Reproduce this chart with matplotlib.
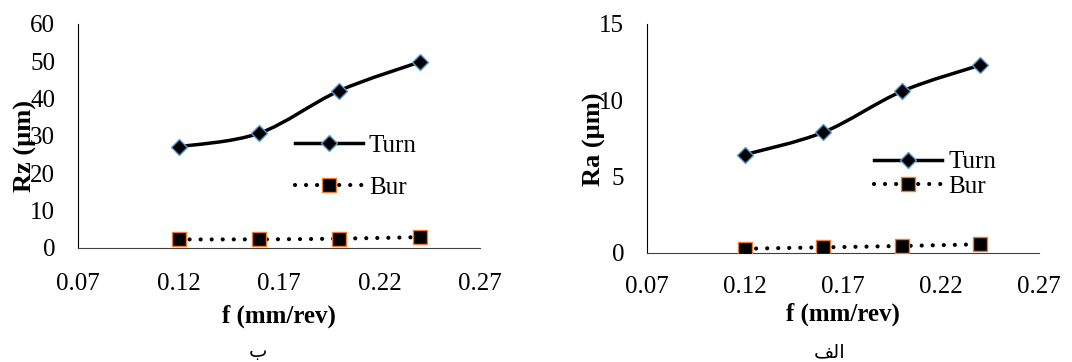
import numpy as np
import matplotlib.pyplot as plt
from matplotlib.path import Path
from matplotlib.patches import PathPatch
from matplotlib.lines import Line2D

plt.rcParams['font.family'] = ['Liberation Serif', 'DejaVu Sans']

# data
f = [0.12, 0.16, 0.20, 0.24]
rz_turn = [27.1, 30.7, 42.1, 49.8]
rz_bur = [2.3, 2.3, 2.5, 2.9]
ra_turn = [6.43, 7.9, 10.58, 12.3]
ra_bur = [0.26, 0.35, 0.44, 0.55]
xticks = [0.07, 0.12, 0.17, 0.22, 0.27]

BLUE = '#5B9BD5'
ORANGE = '#ED7D31'
FS = 18


def smooth_path(x, y):
    # Excel-like smoothed line: cubic bezier through the points
    p = np.column_stack([x, y]).astype(float)
    ext = np.vstack([p[0], p, p[-1]])
    verts = [p[0]]
    codes = [Path.MOVETO]
    for i in range(len(p) - 1):
        c1 = ext[i + 1] + (ext[i + 2] - ext[i]) / 6
        c2 = ext[i + 2] - (ext[i + 3] - ext[i + 1]) / 6
        verts += [c1, c2, ext[i + 2]]
        codes += [Path.CURVE4] * 3
    return Path(verts, codes)


def panel(ax, turn, bur, ymax, ystep, ylabel, leg_anchor, spacing, ylab_pos, xlab_pos, xpad):
    ax.add_patch(PathPatch(smooth_path(f, turn), fill=False, color='black', lw=2.5,
                           capstyle='round', zorder=2))
    ax.add_patch(PathPatch(smooth_path(f, bur), fill=False, color='black', lw=3,
                           linestyle=(0, (0.01, 2.64)), capstyle='round', zorder=2))
    ax.plot(f, turn, ls='none', marker='D', ms=8, mfc='black', mec=BLUE, mew=1, zorder=3)
    ax.plot(f, bur, ls='none', marker='s', ms=9.5, mfc='black', mec=ORANGE, mew=1, zorder=3)

    ax.set_xlim(0.07, 0.27)
    ax.set_ylim(0, ymax)
    ax.set_xticks(xticks)
    ax.set_xticklabels(['%.2f' % v for v in xticks])
    ax.set_yticks(np.arange(0, ymax + 0.1, ystep))
    ax.tick_params(length=0, labelsize=FS)
    ax.tick_params(axis='y', pad=16.5)
    ax.tick_params(axis='x', pad=xpad)
    for s in ['top', 'right']:
        ax.spines[s].set_visible(False)
    ax.spines['left'].set_color('black')
    ax.spines['bottom'].set_color('#404040')
    ax.set_xlabel('f (mm/rev)', fontsize=FS, fontweight='bold')
    ax.set_ylabel(ylabel, fontsize=19, fontweight='bold', va='center')
    ax.xaxis.set_label_coords(*xlab_pos)
    ax.yaxis.set_label_coords(*ylab_pos)

    handles = [
        Line2D([], [], color='black', lw=2.5, marker='D', ms=8, mfc='black', mec=BLUE),
        Line2D([], [], color='black', lw=3, linestyle=(0, (0.01, 2.64)),
               dash_capstyle='round', marker='s', ms=9.5, mfc='black', mec=ORANGE),
    ]
    ax.legend(handles, ['Turn', 'Bur'], loc='upper left', bbox_to_anchor=leg_anchor,
              frameon=False, fontsize=FS, handlelength=2.7, handletextpad=0.25,
              labelspacing=spacing, borderpad=0, borderaxespad=0)


fig = plt.figure(figsize=(10.72, 3.62), dpi=100)
ax1 = fig.add_axes([0.0728, 0.315, 0.375, 0.619])
ax2 = fig.add_axes([0.6036, 0.302, 0.3657, 0.632])

panel(ax1, rz_turn, rz_bur, 60, 10, 'Rz (µm)', (0.54, 0.508), 0.78,
      (-0.132, 0.455), (0.5, -0.252), 18)
panel(ax2, ra_turn, ra_bur, 15, 5, 'Ra (µm)', (0.58, 0.445), 0.08,
      (-0.133, 0.497), (0.5, -0.217), 17)

# Persian panel captions (presentation forms, visual order)
fig.text(258 / 1072, 1 - 352 / 362, '\uFE8F', family='DejaVu Sans', fontsize=14,
         ha='center', va='center')
fig.text(830 / 1072, 1 - 352 / 362, '\uFED2\uFEDF\uFE8D', family='DejaVu Sans',
         fontsize=14, ha='center', va='center')

fig.savefig('out.png', dpi=100)
